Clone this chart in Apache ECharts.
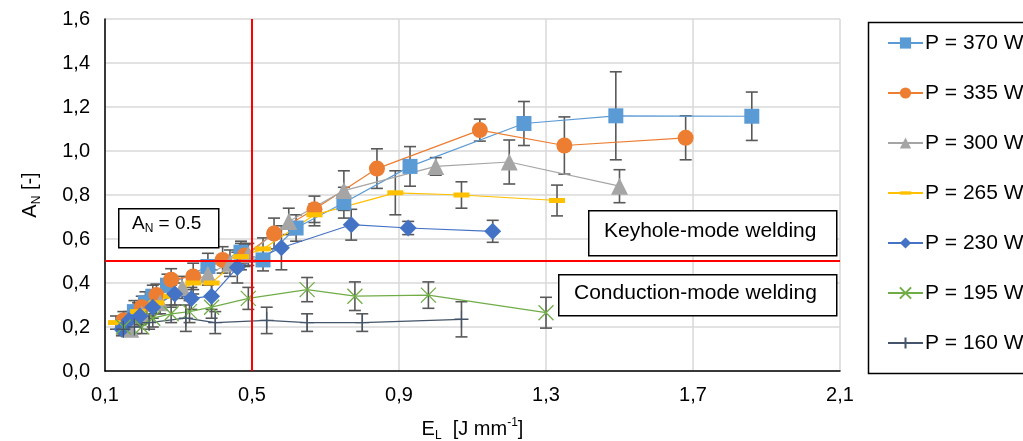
<!DOCTYPE html>
<html><head><meta charset="utf-8">
<script src="https://cdn.jsdelivr.net/npm/echarts@6/dist/echarts.min.js"></script>
<style>html,body{margin:0;padding:0;background:#fff}#c{width:1023px;height:441px}</style>
</head><body><div id="c"></div>
<script>
const seriesNames = ['P = 370 W','P = 335 W','P = 300 W','P = 265 W','P = 230 W','P = 195 W','P = 160 W'];
const x370 = [0.15,0.18,0.21,0.23,0.27,0.38,0.47,0.53,0.62,0.75,0.93,1.24,1.49,1.86];
const y370 = [0.21,0.27,0.31,0.34,0.39,0.475,0.54,0.505,0.65,0.765,0.93,1.125,1.16,1.158];
const e370 = [0.04,0.05,0.05,0.05,0.05,0.06,0.05,0.05,0.06,0.07,0.09,0.10,0.20,0.11];
const x335 = [0.15,0.2,0.24,0.28,0.34,0.42,0.48,0.56,0.67,0.84,1.12,1.35,1.68];
const y335 = [0.23,0.29,0.345,0.415,0.43,0.505,0.525,0.625,0.735,0.92,1.095,1.025,1.06];
const e335 = [0.04,0.05,0.05,0.05,0.06,0.06,0.05,0.07,0.06,0.09,0.05,0.13,0.10];
const x300 = [0.17,0.2,0.25,0.31,0.38,0.44,0.49,0.6,0.75,1.0,1.2,1.5];
const y300 = [0.19,0.26,0.31,0.38,0.44,0.49,0.53,0.68,0.82,0.93,0.95,0.84];
const e300 = [0.03,0.04,0.05,0.05,0.05,0.06,0.05,0.06,0.09,0.04,0.10,0.075];
const x265 = [0.13,0.19,0.24,0.28,0.34,0.39,0.47,0.53,0.67,0.89,1.07,1.33];
const y265 = [0.22,0.27,0.31,0.34,0.40,0.40,0.52,0.555,0.71,0.81,0.80,0.775];
const e265 = [0.03,0.04,0.05,0.05,0.05,0.06,0.06,0.05,0.05,0.10,0.06,0.07];
const x230 = [0.146,0.165,0.195,0.23,0.29,0.335,0.39,0.46,0.58,0.77,0.925,1.155];
const y230 = [0.19,0.23,0.25,0.29,0.35,0.33,0.34,0.47,0.56,0.665,0.65,0.635];
const e230 = [0.03,0.04,0.04,0.05,0.05,0.05,0.06,0.07,0.10,0.07,0.03,0.05];
const x195 = [0.15,0.2,0.23,0.28,0.33,0.39,0.49,0.65,0.78,0.98,1.3];
const y195 = [0.2,0.2,0.24,0.26,0.27,0.29,0.33,0.37,0.34,0.345,0.265];
const e195 = [0.03,0.03,0.04,0.04,0.05,0.05,0.05,0.055,0.065,0.06,0.07];
const x160 = [0.15,0.18,0.22,0.32,0.40,0.54,0.65,0.80,1.07];
const y160 = [0.19,0.2,0.22,0.24,0.22,0.23,0.22,0.22,0.235];
const e160 = [0.02,0.03,0.03,0.06,0.05,0.06,0.04,0.04,0.08];
const thresholdX = 0.5, thresholdY = 0.5;

const groups = [[x370,y370,e370],[x335,y335,e335],[x300,y300,e300],[x265,y265,e265],[x230,y230,e230],[x195,y195,e195],[x160,y160,e160]];
const colors = ['#5B9BD5','#ED7D31','#A5A5A5','#FFC000','#4472C4','#70AD47','#44546A'];
const symbols = ['rect','circle','triangle','path://M0,0L0,0M0,6L16,6L16,11L0,11ZM0,17L0,17','diamond','path://M0,0L10,10M10,0L0,10','path://M5,0L5,10M0,5L10,5'];
const sizes = [15,16,17,[16,17],17,15,[14,17]];
const font = 'Liberation Sans, Arial, sans-serif';

const series = [];
groups.forEach((g,i)=>{
  const stroke = i>=5;
  series.push({
    type:'custom', name: seriesNames[i]+'_err', z:2, silent:true,
    data: g[0].map((x,k)=>[x,g[1][k],g[2][k]]),
    renderItem:(params,api)=>{
      const x=api.value(0), y=api.value(1), e=api.value(2);
      const top=api.coord([x,y+e]), bot=api.coord([x,y-e]);
      const w=6;
      const st={stroke:'#595959',lineWidth:1.6};
      return {type:'group',children:[
        {type:'line',shape:{x1:top[0],y1:top[1],x2:bot[0],y2:bot[1]},style:st},
        {type:'line',shape:{x1:top[0]-w,y1:top[1],x2:top[0]+w,y2:top[1]},style:st},
        {type:'line',shape:{x1:bot[0]-w,y1:bot[1],x2:bot[0]+w,y2:bot[1]},style:st}
      ]};
    }
  });
  const s = {
    type:'line', name: seriesNames[i], z:3,
    data: g[0].map((x,k)=>[x,g[1][k]]),
    symbol: symbols[i], symbolSize: sizes[i], showAllSymbols:true, symbolKeepAspect:false,
    lineStyle:{color:colors[i], width:1.2},
    itemStyle: stroke ? {color:'rgba(0,0,0,0)', borderColor:colors[i], borderWidth:1.3} : {color:colors[i], borderWidth:0},
    color: colors[i],
    animation:false
  };
  if(i===0){
    s.markLine = {silent:true, symbol:'none', label:{show:false}, animation:false,
      lineStyle:{color:'#FF0000', width:2, type:'solid'},
      data:[{xAxis:thresholdX},{yAxis:thresholdY}]};
  }
  series.push(s);
});

const chart = echarts.init(document.getElementById('c'));
chart.setOption({
  animation:false,
  backgroundColor:'#fff',
  grid:{left:105, right:183, top:19, bottom:70, outerBoundsMode:'none', containLabel:false},
  xAxis:{type:'value', min:0.1, max:2.1, interval:0.4,
    axisLine:{show:true, lineStyle:{color:'#000', width:1.5}}, axisTick:{show:false},
    splitLine:{show:true, lineStyle:{color:'#D9D9D9', width:1.5}},
    axisLabel:{color:'#000', fontSize:20, fontFamily:font, margin:14, formatter:v=>v.toFixed(1).replace('.',',')},
    name:'{a|E}{s|L}{a|  [J mm}{p|-1}{a|]}', nameLocation:'middle', nameGap:46,
    nameTextStyle:{rich:{a:{fontSize:20,fontFamily:font,color:'#000'},s:{fontSize:12,fontFamily:font,color:'#000',verticalAlign:'bottom',padding:[13,0,0,0]},p:{fontSize:12,fontFamily:font,color:'#000',verticalAlign:'top',padding:[0,0,11,0]}}}
  },
  yAxis:{type:'value', min:0, max:1.6, interval:0.2,
    axisLine:{show:true, lineStyle:{color:'#000', width:1.5}}, axisTick:{show:false},
    splitLine:{show:true, lineStyle:{color:'#D9D9D9', width:1.5}},
    axisLabel:{color:'#000', fontSize:20, fontFamily:font, margin:15, formatter:v=>v.toFixed(1).replace('.',',')},
    name:'{a|A}{s|N}{a| [-]}', nameLocation:'middle', nameGap:62, nameRotate:90,
    nameTextStyle:{rich:{a:{fontSize:20,fontFamily:font,color:'#000'},s:{fontSize:12,fontFamily:font,color:'#000',verticalAlign:'bottom',padding:[13,0,0,0]}}}
  },
  legend:{orient:'vertical', left:887, top:31, padding:0, itemWidth:35, itemHeight:14, itemGap:26,
    data:seriesNames, textStyle:{fontSize:21, fontFamily:font, color:'#000', lineHeight:24, padding:[0,0,0,-3]}},
  graphic:[
    {type:'rect', left:866, top:20, shape:{width:200, height:351}, style:{fill:'none', stroke:'#000', lineWidth:1.5}},
    {type:'rect', left:118, top:208, shape:{width:100, height:39}, style:{fill:'#fff', stroke:'#000', lineWidth:1.5}, z:10},
    {type:'text', left:132, top:214, z:11, style:{text:'{a|A}{s|N}{a| = 0.5}', rich:{a:{fontSize:19,fontFamily:font,fill:'#000'},s:{fontSize:12,fontFamily:font,fill:'#000',verticalAlign:'bottom',padding:[11,0,0,0]}}}},
    {type:'rect', left:588, top:210, shape:{width:248, height:45}, style:{fill:'#fff', stroke:'#000', lineWidth:1.5}, z:10},
    {type:'text', left:604, top:221, z:11, style:{text:'Keyhole-mode welding', fontSize:21, fontFamily:font, fill:'#000'}},
    {type:'rect', left:558, top:274, shape:{width:278, height:41}, style:{fill:'#fff', stroke:'#000', lineWidth:1.5}, z:10},
    {type:'text', left:574, top:283, z:11, style:{text:'Conduction-mode welding', fontSize:21, fontFamily:font, fill:'#000'}}
  ],
  series: series
});
</script></body></html>
